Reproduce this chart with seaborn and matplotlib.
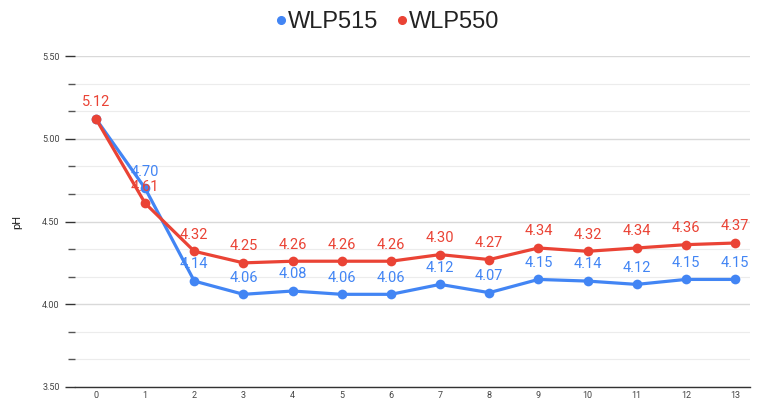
import pandas as pd
import numpy as np
import matplotlib
matplotlib.use("Agg")
import matplotlib.pyplot as plt
import seaborn as sns
from matplotlib.ticker import MultipleLocator

sns.set_style("white")
plt.rcParams['font.family'] = ['Roboto', 'DejaVu Sans']

## Data ##
days = list(range(14))
wlp515 = [5.12, 4.70, 4.14, 4.06, 4.08, 4.06, 4.06, 4.12, 4.07, 4.15, 4.14, 4.12, 4.15, 4.15]
wlp550 = [5.12, 4.61, 4.32, 4.25, 4.26, 4.26, 4.26, 4.30, 4.27, 4.34, 4.32, 4.34, 4.36, 4.37]
series = ["WLP515", "WLP550"]
colors = {"WLP515": "#4285F4", "WLP550": "#EA4335"}

df = pd.DataFrame({"day": days * 2,
                   "pH": wlp515 + wlp550,
                   "Series": ["WLP515"] * len(days) + ["WLP550"] * len(days)})

fig = plt.figure(figsize=(7.59, 4.0), dpi=100)
ax = fig.add_axes([75/759, 13/400, 675/759, 331/400])

sns.lineplot(data=df, x="day", y="pH", hue="Series", palette=colors,
             marker="o", markersize=7, markeredgewidth=0, linewidth=2.3,
             ax=ax, legend=False)

# data labels above the points
for name, vals in [("WLP515", wlp515), ("WLP550", wlp550)]:
    for d, v in zip(days, vals):
        if name == "WLP515" and d == 0:
            continue
        ax.annotate("{:.2f}".format(v), (d, v), xytext=(0, 12), textcoords="offset points",
                    ha="center", va="center", fontsize=10.5, color=colors[name])

ax.set_xlim(-0.427, 13.305)
ax.set_ylim(3.5, 5.5)
ax.set_xticks(days)
ax.yaxis.set_major_locator(MultipleLocator(0.5))
ax.yaxis.set_minor_locator(MultipleLocator(0.5/3))
ax.yaxis.set_major_formatter(matplotlib.ticker.FormatStrFormatter("%.2f"))
ax.grid(which="major", axis="y", color="#d9d9d9", linewidth=1)
ax.grid(which="minor", axis="y", color="#ececec", linewidth=0.8)
ax.set_axisbelow(True)
ax.tick_params(axis="y", which="major", length=7, width=1, color="#333333",
               labelsize=6.5, labelcolor="#444444", pad=4, left=True)
ax.tick_params(axis="y", which="minor", length=5, width=1, color="#555555", left=True)
ax.tick_params(axis="x", length=0, labelsize=6.5, labelcolor="#444444", pad=3)
for s in ["top", "right", "left"]:
    ax.spines[s].set_visible(False)
ax.spines["bottom"].set_color("#333333")
ax.spines["bottom"].set_linewidth(1)
ax.set_xlabel("")
ax.set_ylabel("pH", fontsize=8, color="#222222", labelpad=14)

# legend at top
handles = [plt.Line2D([], [], marker="o", linestyle="", color=colors[s], markersize=5.5) for s in series]
fig.legend(handles, series, loc="upper center", bbox_to_anchor=(0.51, 1.025), ncol=2,
           frameon=False, prop={"family": "Liberation Sans", "size": 17},
           handlelength=0.5, handletextpad=0.05, columnspacing=0.75, labelcolor="#222222")

fig.savefig("out.png", dpi=100)
